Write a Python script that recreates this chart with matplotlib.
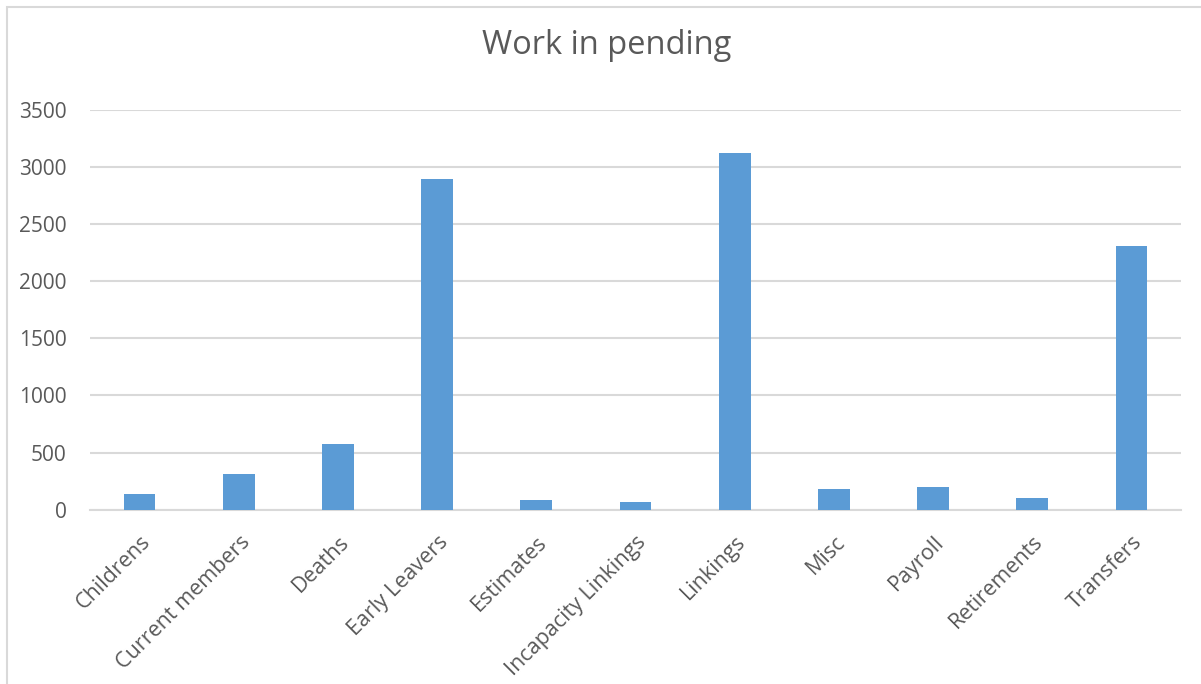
import matplotlib
matplotlib.use("Agg")
from matplotlib import pyplot
from matplotlib.patches import Rectangle

categories = ["Childrens", "Current members", "Deaths", "Early Leavers", "Estimates",
              "Incapacity Linkings", "Linkings", "Misc", "Payroll", "Retirements", "Transfers"]
values = [140, 310, 575, 2895, 85, 65, 3120, 180, 200, 100, 2310]
y_ticks = [0, 500, 1000, 1500, 2000, 2500, 3000, 3500]

pyplot.rcParams['font.family'] = ['Open Sans', 'DejaVu Sans']
text_color = '#595959'

fig = pyplot.figure(figsize=(12.01, 6.84), dpi=100)
ax = fig.add_axes([90 / 1201, 174.3 / 684, 1091 / 1201, 399.7 / 684])

x = list(range(len(categories)))
ax.bar(x, values, width=0.32, color='#5b9bd5', zorder=3)

ax.set_xlim(-0.5, len(categories) - 0.5)
ax.set_ylim(0, 3500)
ax.set_yticks(y_ticks)
ax.set_yticklabels([str(t) for t in y_ticks], fontsize=15, color=text_color)
ax.yaxis.grid(True, color='#d9d9d9', linewidth=1.5, zorder=0)

# деления невидимые, поэтому подписи чуть сдвигаем вправо, как в Excel
ax.set_xticks([i + 0.08 for i in x])
ax.set_xticklabels(categories, fontsize=15.5, color=text_color, rotation=45,
                   ha='right', va='center', rotation_mode='anchor')

ax.tick_params(axis='y', length=0, pad=17)
ax.tick_params(axis='x', length=0, pad=21)
for side in ['top', 'right', 'left']:
    ax.spines[side].set_visible(False)
ax.spines['bottom'].set_color('#d9d9d9')
ax.spines['bottom'].set_linewidth(1.5)

fig.text(607 / 1201, 1 - 46 / 684, "Work in pending", ha='center', va='center',
         fontsize=23.5, color=text_color)

# рамка вокруг диаграммы
fig.patches.append(Rectangle((6.5 / 1201, -0.1), 2, 1.1 - 6.5 / 684, transform=fig.transFigure,
                             fill=False, edgecolor='#d9d9d9', linewidth=1.5))

fig.savefig('out.png')
